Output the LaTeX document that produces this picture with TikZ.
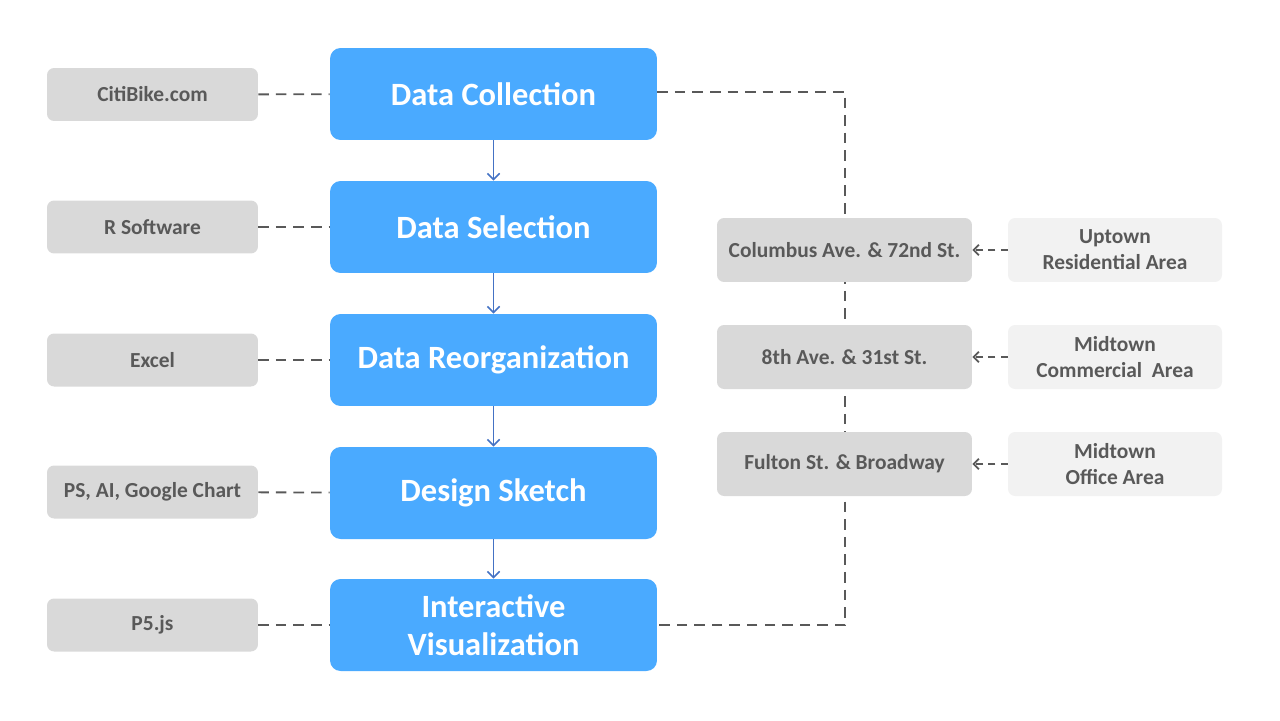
\documentclass[tikz,border=0pt]{standalone}
\usepackage{fontspec}
\setmainfont{Carlito}
\usepackage{xcolor}
\usepackage{tikz}
\usetikzlibrary{arrows.meta}

\definecolor{stepblue}{RGB}{74,170,255}
\definecolor{toolgray}{RGB}{217,217,217}
\definecolor{areagray}{RGB}{242,242,242}
\definecolor{textgray}{RGB}{89,89,89}
\definecolor{flowblue}{RGB}{68,114,196}

\begin{document}
\begin{tikzpicture}[x=0.02cm,y=-0.02cm,
		stepbox/.style={fill=stepblue,rounded corners=6pt,minimum width=6.54cm,minimum height=1.84cm,
			inner sep=0pt,text=white,align=center,font=\fontsize{18.5}{21.5}\selectfont\bfseries},
		toolbox/.style={fill=toolgray,rounded corners=4pt,minimum width=4.22cm,minimum height=1.06cm,
			inner sep=0pt,text=textgray,font=\fontsize{12.2}{14}\selectfont\bfseries},
		sitebox/.style={fill=toolgray,rounded corners=4pt,minimum width=5.1cm,minimum height=1.28cm,
			inner sep=0pt,text=textgray,font=\fontsize{12.2}{14}\selectfont\bfseries},
		areabox/.style={fill=areagray,rounded corners=4pt,minimum width=4.28cm,minimum height=1.28cm,
			inner sep=0pt,text=textgray,align=center,font=\fontsize{12.2}{14.7}\selectfont\bfseries},
		link/.style={draw=textgray,line width=1.05pt,dash pattern=on 6pt off 4pt},
		flow/.style={draw=flowblue,line width=0.9pt,-{Straight Barb[length=3.5pt,width=7pt]}}]
			\useasboundingbox (0,0) rectangle (1280,720);
			% main steps
			\node[stepbox] (collect) at (493.5,94) {Data Collection};
			\node[stepbox] (select) at (493.5,227) {Data Selection};
			\node[stepbox] (reorg) at (493.5,360) {Data Reorganization};
			\node[stepbox] (sketch) at (493.5,493) {Design Sketch};
			\node[stepbox] (visual) at (493.5,625) {Interactive\\Visualization};
			% tools
			\node[toolbox] (citi) at (152.5,94.5) {CitiBike.com};
			\node[toolbox] (rsoft) at (152.5,227) {R Software};
			\node[toolbox] (excel) at (152.5,360) {Excel};
			\node[toolbox] (ps) at (152.5,492) {PS, AI, Google Chart};
			\node[toolbox] (pfive) at (152.5,625) {P5.js};
			% bracket on the right
			\coordinate (topturn) at (845,92);
			\coordinate (botturn) at (845,625);
			\draw[link] (collect.east |- topturn) -- (topturn) -- (botturn) -- (visual.east |- botturn);
			% stations
			\node[sitebox] (columbus) at (844.5,250) {Columbus Ave. \& 72nd St.};
			\node[sitebox] (eighth) at (844.5,357) {8th Ave. \& 31st St.};
			\node[sitebox] (fulton) at (844.5,464) {Fulton St. \& Broadway};
			% areas
			\node[areabox] (uptown) at (1115,250) {Uptown\\Residential Area};
			\node[areabox] (commerce) at (1115,357) {Midtown\\Commercial~ Area};
			\node[areabox] (office) at (1115,464) {Midtown\\Office Area};
			% connections
			\draw[flow] (collect) -- (select);
			\draw[flow] (select) -- (reorg);
			\draw[flow] (reorg) -- (sketch);
			\draw[flow] (sketch) -- (visual);
			\draw[link] (citi) -- (collect);
			\draw[link] (rsoft) -- (select);
			\draw[link] (excel) -- (reorg);
			\draw[link] (ps) -- (sketch);
			\draw[link] (pfive) -- (visual);
			\draw[link,dash pattern=on 4pt off 3pt,-{Straight Barb[length=3pt,width=6pt]}] (uptown) -- (columbus);
			\draw[link,dash pattern=on 4pt off 3pt,-{Straight Barb[length=3pt,width=6pt]}] (commerce) -- (eighth);
			\draw[link,dash pattern=on 4pt off 3pt,-{Straight Barb[length=3pt,width=6pt]}] (office) -- (fulton);
		\end{tikzpicture}
\end{document}
